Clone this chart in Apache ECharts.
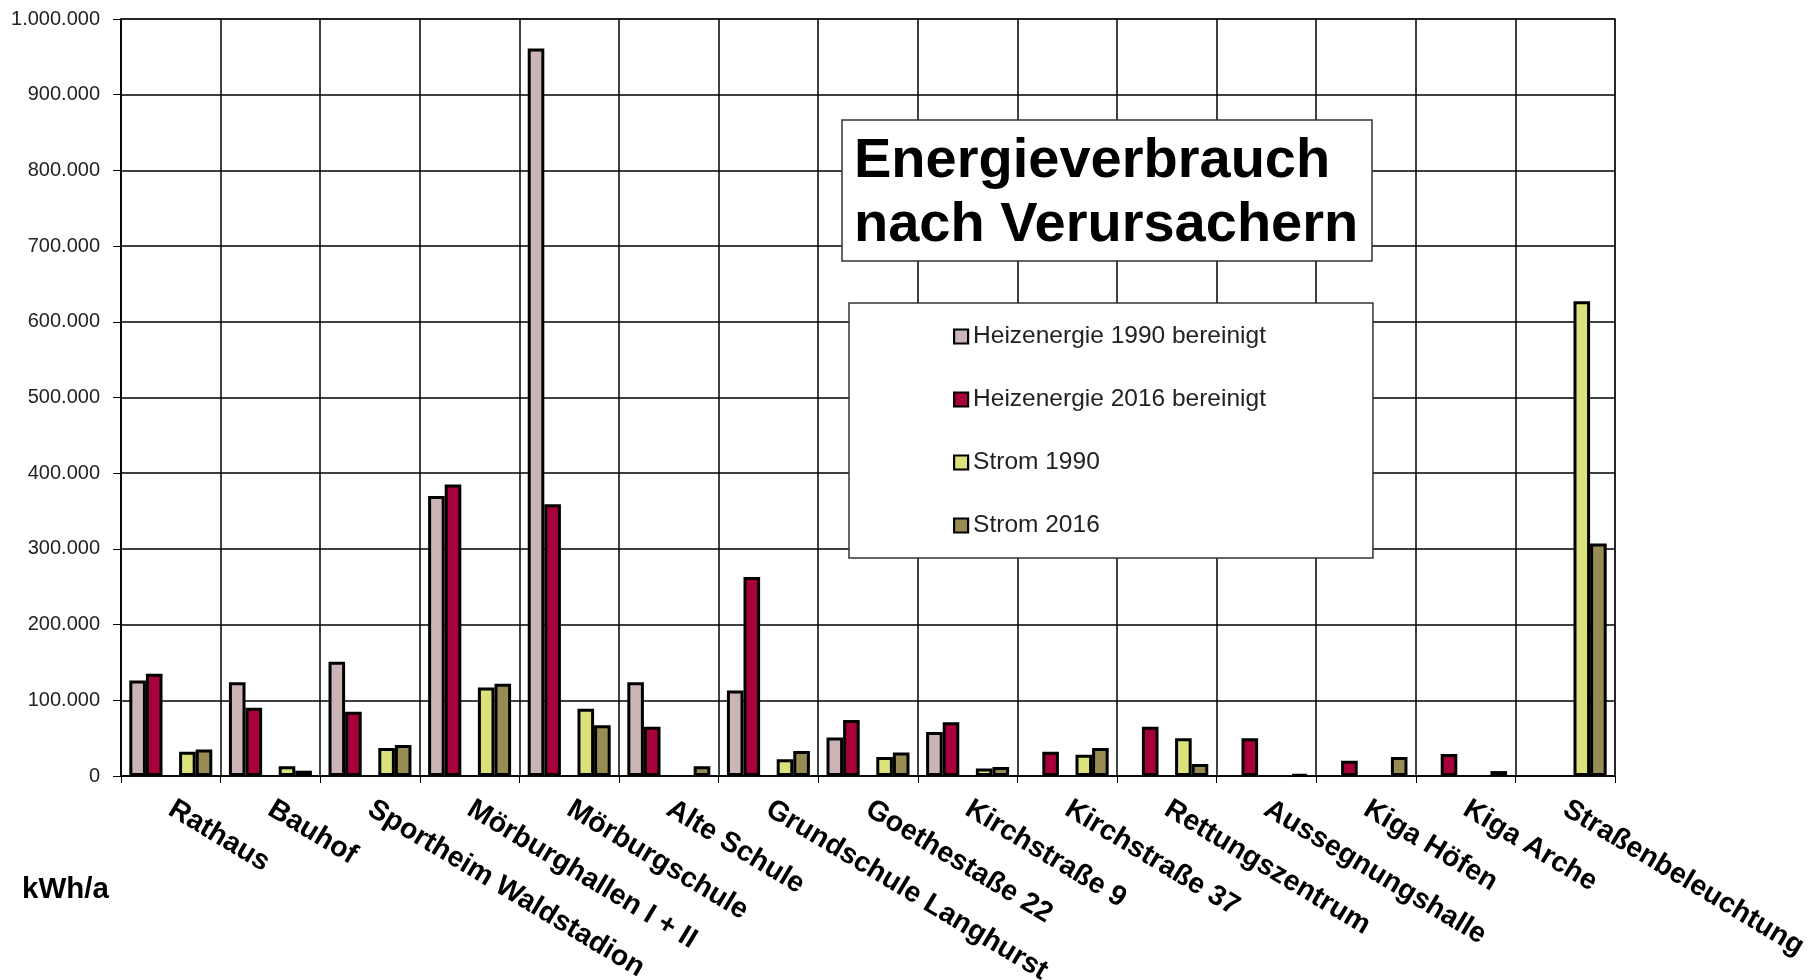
<!DOCTYPE html>
<html>
<head>
<meta charset="utf-8">
<title>Energieverbrauch nach Verursachern</title>
<script src="https://cdn.jsdelivr.net/npm/echarts/dist/echarts.min.js"></script>
<style>
  html,body{margin:0;padding:0;background:#fff;}
  #chart{width:1814px;height:980px;}
</style>
</head>
<body>
<div id="chart"></div>
<script>
/********
 *  Energieverbrauch nach Verursachern (kWh/a)
 */
var categories = ["Rathaus", "Bauhof", "Sportheim Waldstadion", "Mörburghallen I + II", "Mörburgschule",
	"Alte Schule", "Grundschule Langhurst", "Goethestaße 22", "Kirchstraße 9", "Kirchstraße 37",
	"Rettungszentrum", "Aussegnungshalle", "Kiga Höfen", "Kiga Arche", "Straßenbeleuchtung"];

var heiz1990 = [126000, 124000, 151000, 370000, 961000, 124000, 113000, 51000, 58000, null, null, null, null, null, null];
var heiz2016 = [135000, 90000, 85000, 385000, 359000, 65000, 263000, 74000, 71000, 32000, 65000, 50000, 20000, 29000, null];
var strom1990 = [32000, 13000, 37000, 117000, 89000, null, 22000, 25000, 10000, 28000, 50000, null, null, null, 627000];
var strom2016 = [35000, 7000, 41000, 122000, 67000, 13000, 33000, 31000, 12000, 37000, 16000, 2000, 25000, 6500, 307000];

var seriesNames = ["Heizenergie 1990 bereinigt", "Heizenergie 2016 bereinigt", "Strom 1990", "Strom 2016"];
var seriesColors = ["#CAB4B5", "#A8003D", "#DCE27B", "#988C55"];

var FONT = "'Liberation Sans', Arial, sans-serif";

/****
 * Tausenderpunkte wie im Original
 */
function formatDe(v){
	return String(v).replace(/\B(?=(\d{3})+(?!\d))/g, ".");
}

/****
 * eine Balkenreihe
 */
function barSeries(name, data, color){
	return {
		name: name,
		type: "bar",
		data: data,
		barGap: "0%",
		barCategoryGap: "16.7%",
		itemStyle: {color: color, borderColor: "#000", borderWidth: 3}
	};
}

function initChart(){
	var chart = echarts.init(document.getElementById("chart"));
	var series = [
		barSeries(seriesNames[0], heiz1990, seriesColors[0]),
		barSeries(seriesNames[1], heiz2016, seriesColors[1]),
		// leere Reihe als Abstand zwischen Heizenergie und Strom
		{name: "", type: "bar", data: [], barGap: "0%", barCategoryGap: "16.7%"},
		barSeries(seriesNames[2], strom1990, seriesColors[2]),
		barSeries(seriesNames[3], strom2016, seriesColors[3])
	];
	var option = {
		backgroundColor: "#fff",
		animation: false,
		textStyle: {fontFamily: FONT},
		title: {
			text: "Energieverbrauch\nnach Verursachern",
			left: 842,
			top: 120,
			padding: [10, 14, 3, 12],
			backgroundColor: "#fff",
			borderColor: "#333",
			borderWidth: 1.5,
			textStyle: {fontFamily: FONT, fontSize: 56, fontWeight: "bold", color: "#000", lineHeight: 64}
		},
		legend: {
			data: seriesNames,
			orient: "vertical",
			left: 849,
			top: 303,
			padding: [21, 107, 20, 104],
			itemGap: 38,
			itemWidth: 14,
			itemHeight: 14,
			icon: "rect",
			backgroundColor: "#fff",
			borderColor: "#333",
			borderWidth: 1.5,
			itemStyle: {borderColor: "#000", borderWidth: 2.2},
			textStyle: {fontFamily: FONT, fontSize: 24.5, lineHeight: 24, color: "#222"}
		},
		grid: {
			left: 121,
			right: 199,
			top: 19,
			bottom: 204,
			outerBoundsMode: "none",
			containLabel: false,
			show: true,
			borderColor: "#999",
			borderWidth: 2
		},
		xAxis: {
			type: "category",
			data: categories,
			axisLine: {lineStyle: {color: "#000", width: 1.5}},
			axisTick: {show: true, length: 7, lineStyle: {color: "#000"}},
			splitLine: {show: true, lineStyle: {color: "#000", width: 1.5}},
			axisLabel: {
				interval: 0,
				rotate: -31,
				margin: 31,
				fontFamily: FONT,
				fontSize: 28.5,
				fontWeight: "bold",
				color: "#000"
			}
		},
		yAxis: {
			type: "value",
			min: 0,
			max: 1000000,
			interval: 100000,
			axisLine: {show: true, lineStyle: {color: "#000", width: 1.5}},
			axisTick: {show: true, length: 8, lineStyle: {color: "#000"}},
			splitLine: {show: true, lineStyle: {color: "#000", width: 1.5}},
			axisLabel: {
				margin: 21,
				fontFamily: FONT,
				fontSize: 20,
				color: "#222",
				formatter: formatDe
			}
		},
		graphic: [{
			type: "text",
			left: 22,
			top: 875,
			style: {text: "kWh/a", fontFamily: FONT, fontSize: 29.5, fontWeight: "bold", fill: "#000"}
		}],
		series: series
	};
	chart.setOption(option);
}

initChart();
</script>
</body>
</html>
